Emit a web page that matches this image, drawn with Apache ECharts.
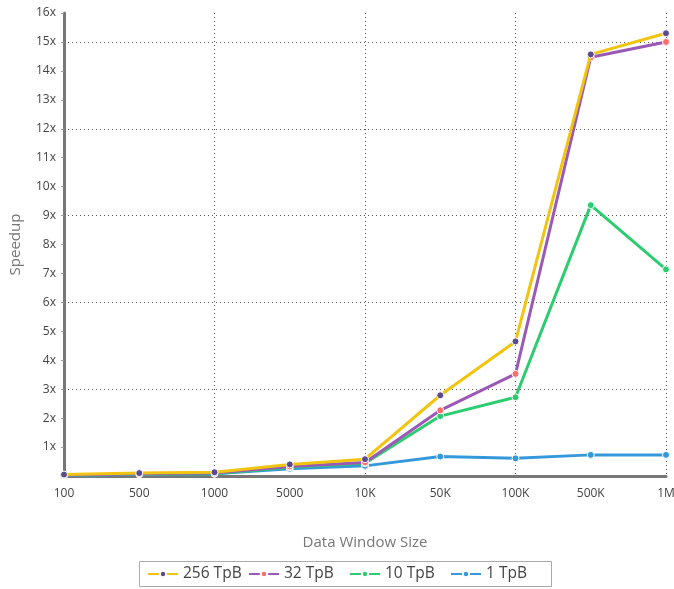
<!DOCTYPE html>
<html>
<head>
<meta charset="utf-8">
<script src="https://cdn.jsdelivr.net/npm/echarts@6/dist/echarts.min.js"></script>
<style>
  html, body { margin: 0; padding: 0; background: #fff; }
  #main { width: 674px; height: 589px; }
</style>
</head>
<body>
<div id="main"></div>
<script>
const windowSizes = ['100', '500', '1000', '5000', '10K', '50K', '100K', '500K', '1M'];
const seriesNames = ['256 TpB', '32 TpB', '10 TpB', '1 TpB'];
const tpb256 = [0.05, 0.1, 0.13, 0.4, 0.58, 2.79, 4.65, 14.57, 15.3];
const tpb32 = [0.03, 0.08, 0.1, 0.33, 0.47, 2.27, 3.53, 14.47, 15.0];
const tpb10 = [0.02, 0.07, 0.08, 0.3, 0.44, 2.07, 2.72, 9.36, 7.14];
const tpb1 = [0.01, 0.06, 0.08, 0.25, 0.35, 0.67, 0.61, 0.73, 0.73];

const font = '"Open Sans", "Noto Sans", sans-serif';
const dotted = { color: '#555', type: [1, 3], width: 1 };

// z so that the first series ends up drawn on top
const mk = (name, data, lineColor, dotColor, z) => ({
  name: name,
  type: 'line',
  z: z,
  data: data,
  symbol: 'circle',
  symbolSize: 7,
  showSymbol: true,
  lineStyle: { color: lineColor, width: 3 },
  itemStyle: { color: dotColor, borderColor: '#fff', borderWidth: 1 }
});

// one legend per entry so every item gets the same slot width
const legends = seriesNames.map((name, i) => ({
  data: [name],
  left: 147 + 101 * i,
  top: 566,
  padding: 0,
  itemWidth: 30,
  itemHeight: 8,
  textStyle: { fontSize: 15.5, color: '#444', fontFamily: font }
}));

const chart = echarts.init(document.getElementById('main'));
chart.setOption({
  animation: false,
  textStyle: { fontFamily: font },
  grid: { left: 64, right: 8, top: 13, bottom: 113, outerBoundsMode: 'none' },
  legend: legends,
  graphic: [{
    type: 'rect',
    shape: { x: 139.5, y: 561.5, width: 412, height: 25 },
    style: { fill: 'none', stroke: '#aaa', lineWidth: 1 },
    silent: true
  }],
  xAxis: {
    type: 'category',
    data: windowSizes,
    boundaryGap: false,
    name: 'Data Window Size',
    nameLocation: 'middle',
    nameGap: 59,
    nameTextStyle: { fontSize: 15, color: '#777' },
    axisLine: { lineStyle: { color: '#777', width: 3 } },
    axisTick: { show: false },
    axisLabel: { fontSize: 12, color: '#444', margin: 12 },
    splitLine: { show: true, interval: 1, lineStyle: dotted }
  },
  yAxis: [
    {
      type: 'value',
      min: 0,
      max: 16,
      interval: 1,
      name: 'Speedup',
      nameLocation: 'middle',
      nameGap: 41,
      nameTextStyle: { fontSize: 15, color: '#777' },
      axisLine: { show: true, lineStyle: { color: '#777', width: 3 } },
      axisTick: { show: true, length: 3, lineStyle: { color: '#999' } },
      axisLabel: {
        fontSize: 12,
        color: '#444',
        margin: 8,
        formatter: v => (v === 0 ? '' : v + 'x')
      },
      splitLine: { show: false }
    },
    {
      type: 'value',
      min: 0,
      max: 16,
      interval: 3,
      position: 'left',
      axisLine: { show: false },
      axisTick: { show: false },
      axisLabel: { show: false },
      splitLine: { show: true, showMinLine: false, showMaxLine: false, lineStyle: dotted }
    }
  ],
  series: [
    mk(seriesNames[0], tpb256, '#f1c40f', '#5b4a8c', 6),
    mk(seriesNames[1], tpb32, '#9b59b6', '#ff6b6b', 5),
    mk(seriesNames[2], tpb10, '#2ecc71', '#2ecc71', 4),
    mk(seriesNames[3], tpb1, '#3498db', '#3498db', 3)
  ]
});
</script>
</body>
</html>
